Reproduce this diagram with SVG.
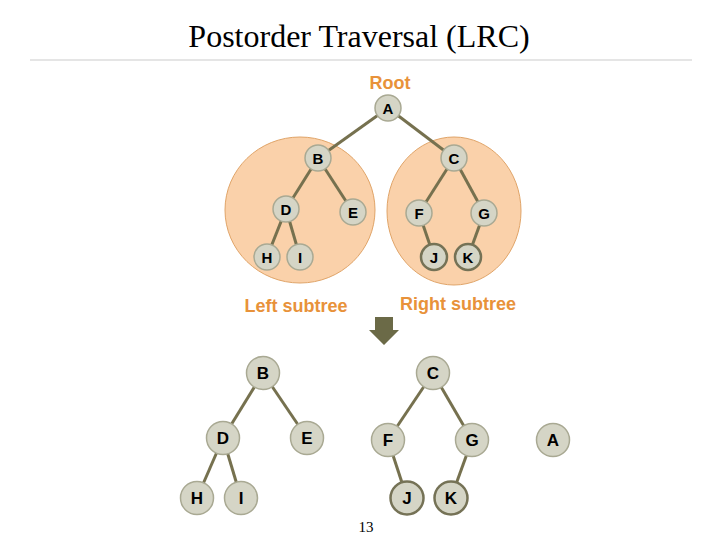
<svg xmlns="http://www.w3.org/2000/svg" width="720" height="540" viewBox="0 0 720 540">
<style>
.n circle{fill:#D5D5C6;stroke:#A9A993;stroke-width:1.5}
.n.dk circle{stroke:#757256;stroke-width:2.5}
.n text{font-family:"Liberation Sans",Arial,sans-serif;font-weight:bold;fill:#000;text-anchor:middle}
.t text{font-size:15px}
.b text{font-size:17px}
.lbl{font-family:"Liberation Sans",Arial,sans-serif;font-weight:bold;font-size:18px;fill:#E8923A;text-anchor:middle}
#edges line{stroke:#76714F;stroke-width:3}
</style>
<rect width="720" height="540" fill="#fff"/>
<text x="359" y="47" font-family="Liberation Serif,serif" font-size="32" text-anchor="middle" fill="#000">Postorder Traversal (LRC)</text>
<line x1="30" y1="60" x2="692" y2="60" stroke="#DDDDDD" stroke-width="1.5"/>
<g id="subtrees">
<ellipse cx="300" cy="210" rx="75" ry="73" fill="#FAD1AA" stroke="#E0A468" stroke-width="1"/>
<ellipse cx="454" cy="211" rx="67" ry="74" fill="#FAD1AA" stroke="#E0A468" stroke-width="1"/>
</g>
<text class="lbl" x="390" y="89">Root</text>
<text class="lbl" x="296" y="312">Left subtree</text>
<text class="lbl" x="458" y="310">Right subtree</text>
<g id="arrow"><polygon points="375,317 393,317 393,330 399,330 384,345 369,330 375,330" fill="#6B6A47"/></g>
<g id="edges">
<line x1="388" y1="108" x2="318" y2="158"/><line x1="388" y1="108" x2="454" y2="158"/>
<line x1="318" y1="158" x2="286" y2="209"/><line x1="318" y1="158" x2="353" y2="212"/>
<line x1="454" y1="158" x2="419" y2="213"/><line x1="454" y1="158" x2="484" y2="213"/>
<line x1="286" y1="209" x2="267" y2="257"/><line x1="286" y1="209" x2="300" y2="257"/>
<line x1="419" y1="213" x2="434" y2="257"/><line x1="484" y1="213" x2="468" y2="257"/>
<line x1="263" y1="373" x2="223" y2="438"/><line x1="263" y1="373" x2="307" y2="438"/>
<line x1="223" y1="438" x2="197" y2="498"/><line x1="223" y1="438" x2="241" y2="498"/>
<line x1="433" y1="373" x2="388" y2="440"/><line x1="433" y1="373" x2="472" y2="440"/>
<line x1="388" y1="440" x2="407" y2="498"/><line x1="472" y1="440" x2="451" y2="498"/>
</g>
<g class="t">
<g id="tA" class="n"><circle cx="388" cy="108" r="13"/><text x="388" y="113.5">A</text></g>
<g id="tB" class="n"><circle cx="318" cy="158" r="13"/><text x="318" y="163.5">B</text></g>
<g id="tC" class="n"><circle cx="454" cy="158" r="13"/><text x="454" y="163.5">C</text></g>
<g id="tD" class="n"><circle cx="286" cy="209" r="13"/><text x="286" y="214.5">D</text></g>
<g id="tE" class="n"><circle cx="353" cy="212" r="13"/><text x="353" y="217.5">E</text></g>
<g id="tF" class="n"><circle cx="419" cy="213" r="13"/><text x="419" y="218.5">F</text></g>
<g id="tG" class="n"><circle cx="484" cy="213" r="13"/><text x="484" y="218.5">G</text></g>
<g id="tH" class="n"><circle cx="267" cy="257" r="13"/><text x="267" y="262.5">H</text></g>
<g id="tI" class="n"><circle cx="300" cy="257" r="13"/><text x="300" y="262.5">I</text></g>
<g id="tJ" class="n dk"><circle cx="434" cy="257" r="13"/><text x="434" y="262.5">J</text></g>
<g id="tK" class="n dk"><circle cx="468" cy="257" r="13"/><text x="468" y="262.5">K</text></g>
</g>
<g class="b">
<g id="bB" class="n"><circle cx="263" cy="373" r="16.5"/><text x="263" y="379">B</text></g>
<g id="bC" class="n"><circle cx="433" cy="373" r="16.5"/><text x="433" y="379">C</text></g>
<g id="bD" class="n"><circle cx="223" cy="438" r="16.5"/><text x="223" y="444">D</text></g>
<g id="bE" class="n"><circle cx="307" cy="438" r="16.5"/><text x="307" y="444">E</text></g>
<g id="bF" class="n"><circle cx="388" cy="440" r="16.5"/><text x="388" y="446">F</text></g>
<g id="bG" class="n"><circle cx="472" cy="440" r="16.5"/><text x="472" y="446">G</text></g>
<g id="bA" class="n"><circle cx="553" cy="440" r="16.5"/><text x="553" y="446">A</text></g>
<g id="bH" class="n"><circle cx="197" cy="498" r="16.5"/><text x="197" y="504">H</text></g>
<g id="bI" class="n"><circle cx="241" cy="498" r="16.5"/><text x="241" y="504">I</text></g>
<g id="bJ" class="n dk"><circle cx="407" cy="498" r="16.5"/><text x="407" y="504">J</text></g>
<g id="bK" class="n dk"><circle cx="451" cy="498" r="16.5"/><text x="451" y="504">K</text></g>
</g>
<text x="366" y="532" font-family="Liberation Serif,serif" font-size="15" text-anchor="middle" fill="#000">13</text>
</svg>
